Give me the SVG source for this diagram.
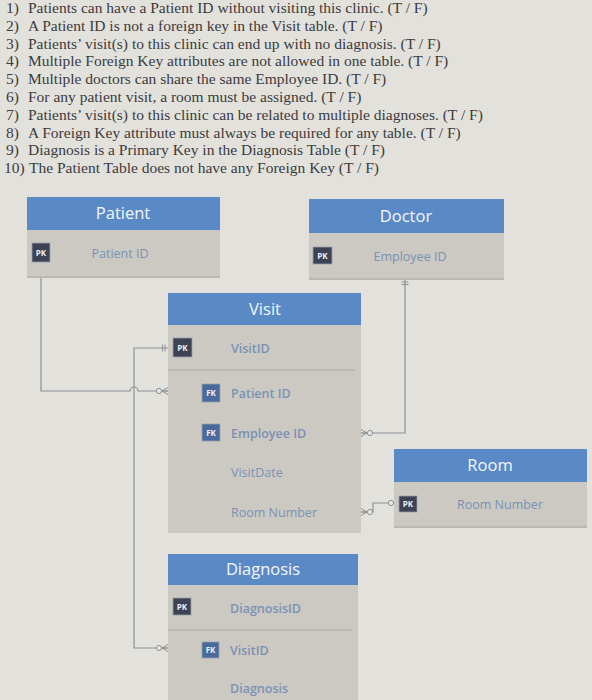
<svg xmlns="http://www.w3.org/2000/svg" width="592" height="700" viewBox="0 0 592 700">
<style>
.q{font-family:"Liberation Serif","Times New Roman",serif;font-size:15.5px;fill:#3b3b3d}
.hdr{fill:#5a8ac6}
.body{fill:#ccc9c3}
.ttl{font-family:"Open Sans","Noto Sans",sans-serif;font-size:16.5px;fill:#f4f6fa;text-anchor:middle}
.fld{font-family:"Open Sans","Noto Sans",sans-serif;font-size:12.5px;fill:#7a91b3}
.fb{font-weight:600}
.pk{fill:#3d4254;stroke:#9aa0a8;stroke-width:0.8}
.fk{fill:#4a6a9c;stroke:#9aa0a8;stroke-width:0.8}
.bt{font-family:"Open Sans","Noto Sans",sans-serif;font-size:8px;font-weight:700;fill:#eef0f4;text-anchor:middle}
.div{stroke:#a9a6a1;stroke-width:1}
.cn{fill:none;stroke:#8b9294;stroke-width:1.2}
</style>
<defs>
<marker id="many0" markerUnits="userSpaceOnUse" markerWidth="16" markerHeight="12" viewBox="-14 -6 16 12" refX="0" refY="0" orient="auto">
<path d="M-6,0 L0,-3.5 M-6,0 L0,0 M-6,0 L0,3.5" fill="none" stroke="#8b9294" stroke-width="1"/>
<circle cx="-9" cy="0" r="2.6" fill="#e6e5e1" stroke="#8b9294" stroke-width="1"/>
</marker>
<marker id="one" markerUnits="userSpaceOnUse" markerWidth="12" markerHeight="12" viewBox="-6 -6 12 12" refX="0" refY="0" orient="auto-start-reverse">
<path d="M-3,-3.5 V3.5 M-5.5,-3.5 V3.5" fill="none" stroke="#8b9294" stroke-width="1"/>
</marker>
<marker id="zone" markerUnits="userSpaceOnUse" markerWidth="16" markerHeight="12" viewBox="-14 -6 16 12" refX="0" refY="0" orient="auto-start-reverse">
<path d="M-3,-3.5 V3.5" fill="none" stroke="#8b9294" stroke-width="1"/>
<circle cx="-8" cy="0" r="2.6" fill="#e6e5e1" stroke="#8b9294" stroke-width="1"/>
</marker>
</defs>
<rect width="592" height="700" fill="#e3e1dc"/>

<g id="questions">
<text class="q" x="6" y="13">1)</text><text class="q" x="28" y="13">Patients can have a Patient ID without visiting this clinic. (T / F)</text>
<text class="q" x="6" y="30.8">2)</text><text class="q" x="28" y="30.8">A Patient ID is not a foreign key in the Visit table. (T / F)</text>
<text class="q" x="6" y="48.6">3)</text><text class="q" x="28" y="48.6">Patients’ visit(s) to this clinic can end up with no diagnosis. (T / F)</text>
<text class="q" x="6" y="66.4">4)</text><text class="q" x="28" y="66.4">Multiple Foreign Key attributes are not allowed in one table. (T / F)</text>
<text class="q" x="6" y="84.2">5)</text><text class="q" x="28" y="84.2">Multiple doctors can share the same Employee ID. (T / F)</text>
<text class="q" x="6" y="102">6)</text><text class="q" x="28" y="102">For any patient visit, a room must be assigned. (T / F)</text>
<text class="q" x="6" y="119.8">7)</text><text class="q" x="28" y="119.8">Patients’ visit(s) to this clinic can be related to multiple diagnoses. (T / F)</text>
<text class="q" x="6" y="137.6">8)</text><text class="q" x="28" y="137.6">A Foreign Key attribute must always be required for any table. (T / F)</text>
<text class="q" x="6" y="155.4">9)</text><text class="q" x="28" y="155.4">Diagnosis is a Primary Key in the Diagnosis Table (T / F)</text>
<text class="q" x="4" y="173.2">10)</text><text class="q" x="29" y="173.2">The Patient Table does not have any Foreign Key (T / F)</text>
</g>

<g id="connectors">
<path class="cn" d="M41,263 V391 H130 a4,4 0 0 1 8,0 H168" marker-start="url(#one)" marker-end="url(#many0)"/>
<path class="cn" d="M168,348 H134 V648 H168" marker-start="url(#one)" marker-end="url(#many0)"/>
<path class="cn" d="M405,279 V433 H361" marker-start="url(#one)" marker-end="url(#many0)"/>
<path class="cn" d="M399,503 H373 V512 H361" marker-start="url(#zone)" marker-end="url(#many0)"/>
</g>

<g id="patient">
<rect class="body" x="27" y="230" width="193" height="48"/>
<line class="div" x1="27" y1="277" x2="220" y2="277"/>
<rect class="hdr" x="27" y="197" width="193" height="33"/>
<text class="ttl" x="123" y="219">Patient</text>
<rect class="pk" x="32" y="243" width="18" height="19"/>
<text class="bt" x="41" y="255.5">PK</text>
<text class="fld" x="120" y="258" text-anchor="middle">Patient ID</text>
</g>

<g id="doctor">
<rect class="body" x="309" y="233" width="195" height="47"/>
<line class="div" x1="309" y1="279" x2="504" y2="279"/>
<rect class="hdr" x="309" y="199" width="195" height="34"/>
<text class="ttl" x="406" y="222">Doctor</text>
<rect class="pk" x="313" y="247" width="19" height="17"/>
<text class="bt" x="322.5" y="258.5">PK</text>
<text class="fld" x="410" y="261" text-anchor="middle">Employee ID</text>
</g>

<g id="visit">
<rect class="body" x="168" y="325" width="193" height="208"/>
<rect class="hdr" x="168" y="293" width="193" height="32"/>
<text class="ttl" x="265" y="315">Visit</text>
<rect class="pk" x="173" y="338" width="19" height="19"/>
<text class="bt" x="182.5" y="350.5">PK</text>
<text class="fld fb" x="231" y="353">VisitID</text>
<line class="div" x1="168" y1="370" x2="355" y2="370"/>
<rect class="fk" x="202" y="384" width="18" height="18"/>
<text class="bt" x="211" y="396">FK</text>
<text class="fld fb" x="231" y="398">Patient ID</text>
<rect class="fk" x="202" y="424" width="18" height="17"/>
<text class="bt" x="211" y="435.5">FK</text>
<text class="fld fb" x="231" y="438">Employee ID</text>
<text class="fld" x="231" y="477">VisitDate</text>
<text class="fld" x="231" y="517">Room Number</text>
</g>

<g id="diagnosis">
<rect class="body" x="168" y="585" width="190" height="115"/>
<rect class="hdr" x="168" y="554" width="190" height="31"/>
<text class="ttl" x="263" y="575">Diagnosis</text>
<rect class="pk" x="173" y="598" width="18" height="17"/>
<text class="bt" x="182" y="609.5">PK</text>
<text class="fld fb" x="230" y="613">DiagnosisID</text>
<line class="div" x1="168" y1="630" x2="352" y2="630"/>
<rect class="fk" x="202" y="642" width="17" height="16"/>
<text class="bt" x="210.5" y="653">FK</text>
<text class="fld fb" x="230" y="655">VisitID</text>
<text class="fld fb" x="230" y="693">Diagnosis</text>
</g>

<g id="room">
<rect class="body" x="394" y="482" width="193" height="46"/>
<line class="div" x1="394" y1="527" x2="587" y2="527"/>
<rect class="hdr" x="394" y="449" width="193" height="33"/>
<text class="ttl" x="490" y="471">Room</text>
<rect class="pk" x="399" y="496" width="18" height="16"/>
<text class="bt" x="408" y="507">PK</text>
<text class="fld" x="500" y="509" text-anchor="middle">Room Number</text>
</g>
</svg>
